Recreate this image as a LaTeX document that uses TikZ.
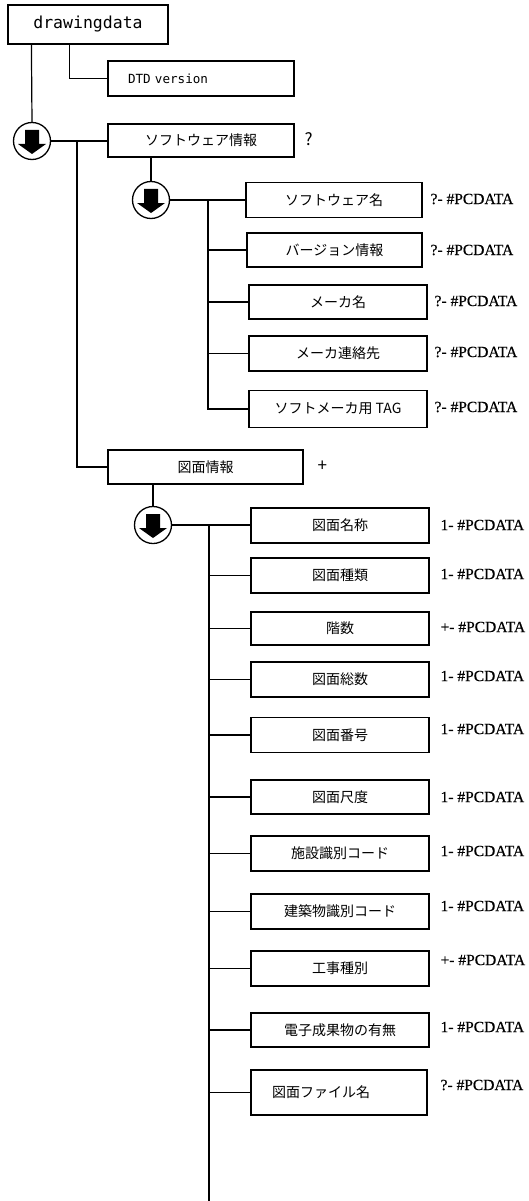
\documentclass[tikz,border=0pt]{standalone}
\usepackage{fontspec}
\setmainfont{Liberation Serif}
\newfontfamily\labfont[FakeBold=0.6]{Liberation Serif}
\newfontfamily\jpfont{Noto Sans CJK JP}
\newfontfamily\monofont{DejaVu Sans Mono}
\begin{document}
\begin{tikzpicture}[x=1pt,y=-1pt,line width=1.2pt,
  box/.style={draw,rectangle,inner sep=0pt,font=\jpfont\fontsize{14}{16}\selectfont},
  swbox/.style={box,minimum width=178pt,minimum height=35pt},
  zbox/.style={box,minimum width=178pt,minimum height=35pt},
  lab/.style={anchor=west,inner sep=0pt,font=\labfont\fontsize{15.5}{17}\selectfont},
  occmark/.style={anchor=west,inner sep=0pt,font=\jpfont\fontsize{17}{19}\selectfont},
  hub/.style={circle,draw,fill=white,minimum size=37pt,inner sep=0pt,line width=1.3pt},
  darrow/.pic={\fill (-7,-11) -- (7,-11) -- (7,3) -- (14,3) -- (0,13) -- (-14,3) -- (-7,3) -- cycle;}
]
\useasboundingbox (0,0) rectangle (528,1201);

% top level
\node[box,minimum width=160pt,minimum height=39pt,font=\monofont\fontsize{16.5}{18}\selectfont] (root) at (88,24.5) {drawingdata};
\node[box,minimum height=35pt,text width=186pt,align=left,font=\monofont\fontsize{12.6}{14}\selectfont] (dtd) at (201,78.5) {\hspace*{20pt}DTD version};
\node[box,minimum width=186pt,minimum height=33pt] (sw) at (201,140.5) {ソフトウェア情報};
\node[occmark] (q1) at (304,139) {?};
\node[hub] (c1) at (32,141) {};
\pic at (c1) {darrow};

% software children
\node[hub] (c2) at (151,200) {};
\pic at (c2) {darrow};
\node[swbox,minimum width=176pt] (s1) at (334,200) {ソフトウェア名};
\node[swbox,minimum width=175pt,minimum height=34pt] (s2) at (334.5,250) {バージョン情報};
\node[swbox,minimum height=34pt] (s3) at (338,302) {メーカ名};
\node[swbox] (s4) at (338,353.5) {メーカ連絡先};
\node[swbox,minimum height=37pt] (s5) at (338,409) {ソフトメーカ用 TAG};
\node[lab] (ls1) at (430,199) {?- \#PCDATA};
\node[lab] (ls2) at (430,250) {?- \#PCDATA};
\node[lab] (ls3) at (434,301) {?- \#PCDATA};
\node[lab] (ls4) at (434,352) {?- \#PCDATA};
\node[lab] (ls5) at (434,407) {?- \#PCDATA};

% drawing info
\node[box,minimum width=195pt,minimum height=34pt] (zm) at (205.5,467) {図面情報};
\node[occmark] (p1) at (317,466) {+};
\node[hub] (c3) at (153,525) {};
\pic at (c3) {darrow};
\node[zbox] (z1) at (340,525.5) {図面名称};
\node[zbox] (z2) at (340,575.5) {図面種類};
\node[zbox,minimum height=33pt] (z3) at (340,628.5) {階数};
\node[zbox] (z4) at (340,679.5) {図面総数};
\node[zbox] (z5) at (340,735) {図面番号};
\node[zbox,minimum height=34pt] (z6) at (340,797) {図面尺度};
\node[zbox] (z7) at (340,853.5) {施設識別コード};
\node[zbox] (z8) at (340,911.5) {建築物識別コード};
\node[zbox] (z9) at (340,968.5) {工事種別};
\node[zbox,minimum height=34pt] (z10) at (340,1030) {電子成果物の有無};
\node[box,minimum width=176pt,minimum height=45pt,text width=176pt,align=left] (z11) at (339,1092.5) {\hspace*{21pt}図面ファイル名};
\node[lab] (lz1) at (440,525) {1- \#PCDATA};
\node[lab] (lz2) at (440,574) {1- \#PCDATA};
\node[lab] (lz3) at (440,627) {+- \#PCDATA};
\node[lab] (lz4) at (440,676) {1- \#PCDATA};
\node[lab] (lz5) at (440,729) {1- \#PCDATA};
\node[lab] (lz6) at (440,797) {1- \#PCDATA};
\node[lab] (lz7) at (440,851) {1- \#PCDATA};
\node[lab] (lz8) at (440,906) {1- \#PCDATA};
\node[lab] (lz9) at (440,960) {+- \#PCDATA};
\node[lab] (lz10) at (440,1027) {1- \#PCDATA};
\node[lab] (lz11) at (440,1085) {?- \#PCDATA};

% connectors
\draw ([xshift=62pt]root.south west) |- (dtd.west);
\draw ([xshift=24pt]root.south west) -- (c1.north);
\draw (c1.east) -- (sw.west |- c1.east);
\coordinate (j1) at (77,141);
\draw (j1) |- (zm.west);

\draw (sw.south -| c2.north) -- (c2.north);
\draw (c2.east) -- (s1.west |- c2.east);
\coordinate (j2) at (208,200);
\draw (j2) |- (s5.west);
\foreach \n in {s2,s3,s4} \draw (j2 |- \n.west) -- (\n.west);

\draw (zm.south -| c3.north) -- (c3.north);
\draw (c3.east) -- (z1.west |- c3.east);
\coordinate (j3) at (209,525);
\coordinate (jend) at (209,1201);
\draw (j3) -- (jend);
\foreach \n in {z2,z3,z4,z5,z6,z7,z8,z9,z10,z11} \draw (j3 |- \n.west) -- (\n.west);
\end{tikzpicture}
\end{document}
